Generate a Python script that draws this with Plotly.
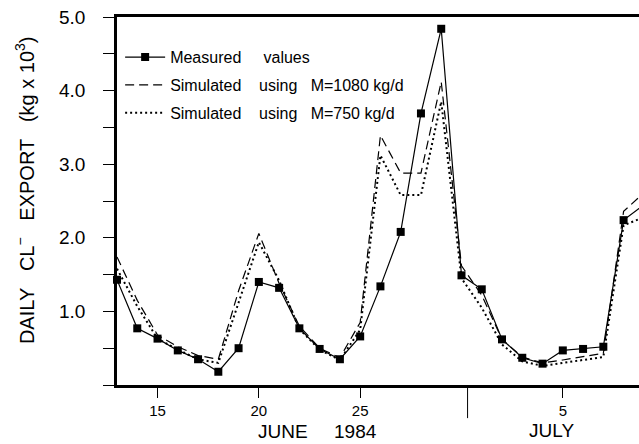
import plotly.graph_objects as go

# Day index: June days as-is, July d -> 30 + d  (June 30 = 30, July 5 = 35)
days = list(range(13, 40))
measured = [1.43, 0.77, 0.63, 0.47, 0.35, 0.18, 0.50, 1.40, 1.32, 0.77, 0.49, 0.35, 0.66,
            1.34, 2.08, 3.69, 4.84, 1.49, 1.30, 0.62, 0.37, 0.29, 0.47, 0.49, 0.52, 2.24, 2.45]
sim_1080 = [1.74, 1.15, 0.68, 0.52, 0.40, 0.35, 1.28, 2.06, 1.38, 0.80, 0.50, 0.37, 0.85,
            3.39, 2.88, 2.88, 4.12, 1.62, 1.22, 0.62, 0.38, 0.30, 0.34, 0.38, 0.43, 2.36, 2.61]
sim_750 = [1.58, 1.07, 0.63, 0.48, 0.35, 0.30, 1.12, 1.94, 1.42, 0.76, 0.48, 0.34, 0.75,
           3.12, 2.58, 2.58, 3.85, 1.45, 1.05, 0.55, 0.32, 0.26, 0.30, 0.34, 0.38, 2.17, 2.28]

x_tickvals = [15, 20, 25, 35]
x_ticktext = ["15", "20", "25", "5"]
y_tickvals = [1.0, 2.0, 3.0, 4.0, 5.0]
y_ticktext = ["1.0", "2.0", "3.0", "4.0", "5.0"]
month_boundary = 30.3

NB = "\u00a0"
FONT = "Liberation Sans, Arial, Helvetica, sans-serif"

fig = go.Figure()
fig.add_trace(go.Scatter(
    x=days, y=measured, mode="lines+markers",
    name="Measured" + NB * 5 + "values",
    line=dict(color="black", width=1.2),
    marker=dict(symbol="square", size=8, color="black"),
    cliponaxis=False, legendgroup="a"))
fig.add_trace(go.Scatter(
    x=days, y=sim_1080, mode="lines",
    name="Simulated" + NB * 4 + "using" + NB * 3 + "M=1080" + NB + "kg/d",
    line=dict(color="black", width=1.2, dash="9px,5px"), legendgroup="b"))
fig.add_trace(go.Scatter(
    x=days, y=sim_750, mode="lines",
    name="Simulated" + NB * 4 + "using" + NB * 3 + "M=750" + NB + "kg/d",
    line=dict(color="black", width=2, dash="2px,3px"), legendgroup="c"))

fig.update_layout(
    width=639, height=444,
    margin=dict(l=117, r=0, t=17, b=59),
    paper_bgcolor="white", plot_bgcolor="white",
    font=dict(family=FONT, color="black"),
    showlegend=True,
    legend=dict(x=0.006, y=0.937, xanchor="left", yanchor="top",
                font=dict(size=16, family=FONT), bgcolor="rgba(0,0,0,0)",
                traceorder="grouped", tracegroupgap=4, itemwidth=40),
    xaxis=dict(range=[13, 38.76], showline=True, linecolor="black", linewidth=2.5,
               mirror=True, ticks="outside", ticklen=10, tickwidth=1, tickcolor="black",
               tickvals=x_tickvals, ticktext=x_ticktext, tickfont=dict(size=15),
               showgrid=False, zeroline=False),
    yaxis=dict(range=[0, 5], showline=True, linecolor="black", linewidth=2.5,
               ticks="outside", ticklen=11, tickwidth=1, tickcolor="black",
               tickvals=y_tickvals, ticktext=y_ticktext, tickfont=dict(size=19),
               minor=dict(dtick=0.5, tick0=0.5, ticks="outside", ticklen=11, tickwidth=1,
                          tickcolor="black", showgrid=False),
               ticklabelstandoff=14, showgrid=False, zeroline=False),
    shapes=[dict(type="line", xref="x", yref="paper", x0=month_boundary, x1=month_boundary,
                 y0=0, y1=-0.09, line=dict(color="black", width=1))],
    annotations=[
        dict(text="JUNE" + NB * 5 + "1984", xref="paper", yref="paper", x=0.385, y=-0.125,
             showarrow=False, font=dict(size=19), xanchor="center", yanchor="middle"),
        dict(text="JULY", xref="paper", yref="paper", x=0.833, y=-0.123,
             showarrow=False, font=dict(size=19), xanchor="center", yanchor="middle"),
        dict(text="DAILY" + NB * 3 + "CL<sup>\u2212</sup>" + NB * 3 + "EXPORT" + NB * 3 +
                  "(kg" + NB + "x" + NB + "10<sup>3</sup>)",
             xref="paper", yref="paper", x=-0.176, y=0.53, textangle=-90,
             showarrow=False, font=dict(size=20), xanchor="center", yanchor="middle"),
    ],
)

fig.write_html("out.html")
